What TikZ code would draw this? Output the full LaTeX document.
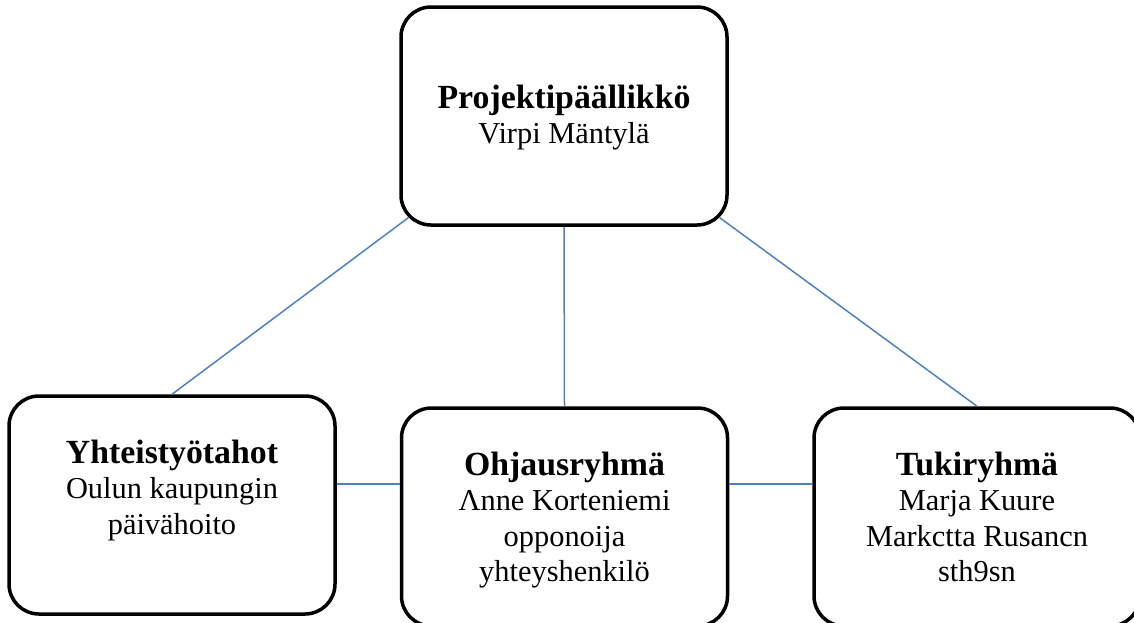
\documentclass[tikz,border=0pt]{standalone}
\usepackage{fontspec}
\setmainfont{Liberation Serif}
\usetikzlibrary{positioning, calc}

\begin{document}
\begin{tikzpicture}[
    x=0.5pt, y=-0.5pt,
    box/.style={draw, line width=1.75pt, rounded corners=15pt, minimum width=163pt, minimum height=109pt, inner sep=0pt},
    txt/.style={align=center, inner sep=0pt, font=\fontsize{15.2}{17.75}\selectfont},
    link/.style={draw=linkblue, line width=0.75pt}
]
    \definecolor{linkblue}{RGB}{79,129,189}
    \useasboundingbox (0,0) rectangle (1134,622);

    % Boxes
    \node at (564, 116) [box] (pm) {};
    \node at (172, 505) [box] (yt) {};
    \node at (564.5, 517) [box] (oh) {};
    \node at (977, 517) [box] (tk) {};

    % Texts
    \node [txt, below=39.5pt of pm.north] (pmtxt) {{\fontsize{16.9}{17.75}\bfseries Projektipäällikkö}\\Virpi Mäntylä};
    \node [txt, below=22.5pt of yt.north] (yttxt) {{\fontsize{16.9}{17.75}\bfseries Yhteistyötahot}\\Oulun kaupungin\\päivähoito};
    \node [txt, below=22.5pt of oh.north] (ohtxt) {{\fontsize{16.9}{17.75}\bfseries Ohjausryhmä}\\Λnne Korteniemi\\opponoija\\yhteyshenkilö};
    \node [txt, below=22.5pt of tk.north] (tktxt) {{\fontsize{16.9}{17.75}\bfseries Tukiryhmä}\\Marja Kuure\\Markctta Rusancn\\sth9sn};

    % Connectors
    \coordinate (ohL) at ([yshift=16.5pt]oh.west);
    \coordinate (ohR) at ([yshift=16.5pt]oh.east);
    \draw[link] ([shift={(9,-9)}]pm.south west) -- (yt.north);
    \draw[link] (pm.south) -- (oh.north);
    \draw[link] ([shift={(-9,-9)}]pm.south east) -- (tk.north);
    \draw[link] (ohL -| yt.east) -- (ohL);
    \draw[link] (ohR) -- (ohR -| tk.west);
\end{tikzpicture}
\end{document}
